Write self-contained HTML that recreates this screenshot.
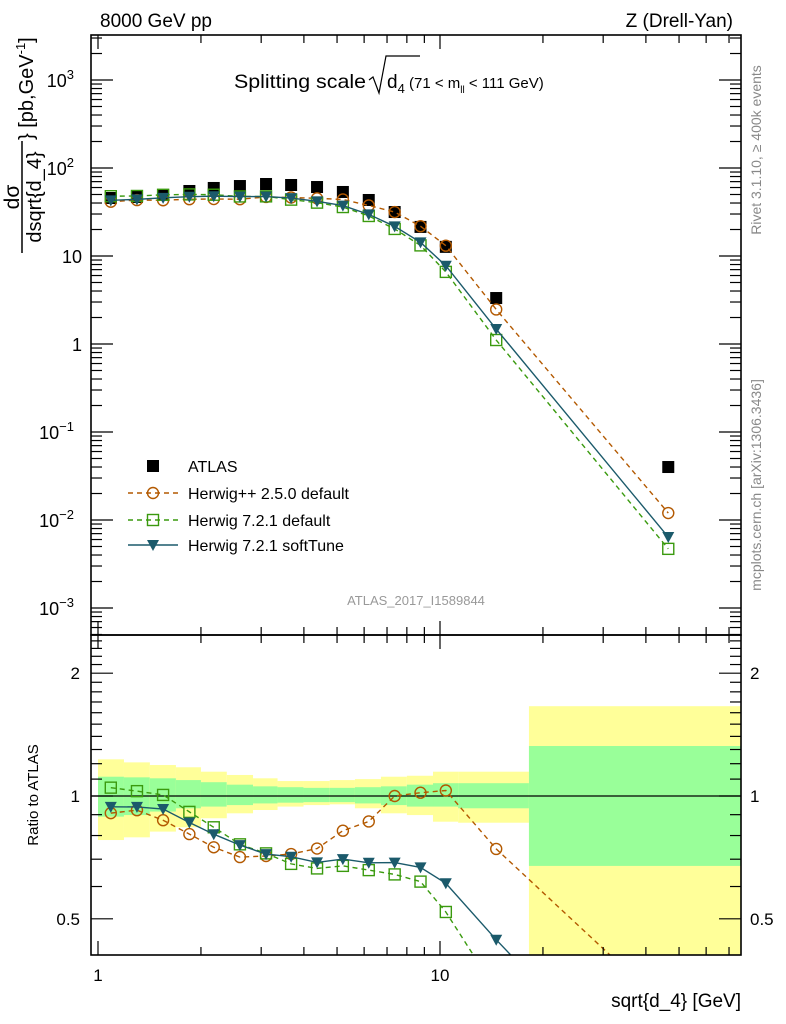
<!DOCTYPE html>
<html><head><meta charset="utf-8"><style>
html,body{margin:0;padding:0;background:#fff;overflow:hidden;width:786px;height:1024px}
svg{display:block;font-family:"Liberation Sans",sans-serif}
</style></head><body>
<svg id="c" width="786" height="1024" viewBox="0 0 786 1024" xmlns="http://www.w3.org/2000/svg">
<defs>
<clipPath id="cpTop"><rect x="91" y="35" width="650" height="600"/></clipPath>
<clipPath id="cpRat"><rect x="91" y="635" width="650" height="320"/></clipPath>
</defs>
<text x="100" y="27" font-size="19">8000 GeV pp</text>
<text x="733" y="27" font-size="19" text-anchor="end">Z (Drell-Yan)</text>
<g>
<text x="234" y="88" font-size="19.5" textLength="132" lengthAdjust="spacingAndGlyphs">Splitting scale</text>
<path d="M369,80 L373,77 L379,93 L386,56 L420,56" fill="none" stroke="#000" stroke-width="1.2"/>
<text x="387" y="88" font-size="19">d<tspan font-size="13" dy="5">4</tspan><tspan font-size="15" dy="-5"> (71 &lt; m</tspan><tspan font-size="10" dy="5">ll</tspan><tspan font-size="15" dy="-5"> &lt; 111 GeV)</tspan></text>
</g>
<g transform="translate(22,197) rotate(-90)">
<text x="0" y="-3" font-size="21" text-anchor="middle">dσ</text>
<line x1="-56" y1="0" x2="56" y2="0" stroke="#000" stroke-width="1.5"/>
<text x="0" y="19" font-size="20" text-anchor="middle">dsqrt{d_4}</text>
<text x="57" y="11" font-size="20">} [pb,GeV<tspan font-size="13" dy="-8">-1</tspan><tspan dy="8">]</tspan></text>
</g>
<text transform="translate(38,795) rotate(-90)" font-size="15" text-anchor="middle">Ratio to ATLAS</text>
<text transform="translate(761,150) rotate(-90)" font-size="14" fill="#888" text-anchor="middle">Rivet 3.1.10, ≥ 400k events</text>
<text transform="translate(761,485) rotate(-90)" font-size="14" fill="#888" text-anchor="middle">mcplots.cern.ch [arXiv:1306.3436]</text>
<text x="416" y="605" font-size="13" fill="#999" text-anchor="middle">ATLAS_2017_I1589844</text>
<text x="741" y="1007" font-size="19" text-anchor="end">sqrt{d_4} [GeV]</text>
<g id="bands" clip-path="url(#cpRat)"></g>
<g id="marks"></g>
<g id="axes"></g>
<g id="legend"></g>
</svg>
<script>
const xVals=[1.09,1.30,1.55,1.85,2.18,2.60,3.10,3.67,4.37,5.20,6.19,7.37,8.77,10.4,14.6,46.5];
const binEdges=[1.0,1.191,1.418,1.69,2.0,2.38,2.84,3.35,3.99,4.76,5.64,6.72,8.0,9.54,11.3,18.2,120];
const atlas=[45.6,46.8,49.3,54.8,59.3,62.4,65.8,64.1,60.8,53.4,43.3,31.6,21.4,12.7,3.33,0.04];
const herwigPP=[41.4,43.2,43.0,44.2,44.4,44.2,46.9,46.2,45.2,43.9,37.5,31.6,21.8,13.1,2.47,0.012];
const herwigDef=[47.8,48.1,49.6,50.1,49.7,47.5,47.6,43.7,40.4,36.0,28.5,20.3,13.2,6.6,1.11,0.0047];
const herwigSoft=[42.9,44.0,45.8,47.2,47.8,47.3,47.4,45.5,41.8,37.4,29.7,21.7,14.3,7.76,1.48,0.0064];
const yellowUp=[1.23,1.209,1.191,1.176,1.147,1.126,1.105,1.088,1.088,1.094,1.1,1.115,1.121,1.147,1.147,1.66];
const yellowDn=[0.78,0.792,0.818,0.838,0.882,0.907,0.924,0.942,0.95,0.954,0.933,0.907,0.898,0.865,0.86,0.2];
const greenUp=[1.115,1.111,1.105,1.094,1.081,1.066,1.056,1.051,1.047,1.047,1.051,1.056,1.066,1.075,1.075,1.326];
const greenDn=[0.89,0.898,0.916,0.933,0.942,0.95,0.959,0.963,0.966,0.966,0.959,0.95,0.942,0.942,0.933,0.674];
const xTickLabels=["1","10"];
const ratioTicks=[0.5,1,2];

const NS="http://www.w3.org/2000/svg";
const L=91,R=741,T=35,MID=635,B=955;
const X=v=>98+342*Math.log10(v);
const Y=v=>344-88*Math.log10(v);
const YR=v=>796-408*Math.log10(v);
const clampY=y=>Math.max(MID,Math.min(B,y));
function mk(tag,attrs,parent){const e=document.createElementNS(NS,tag);for(const k in attrs)e.setAttribute(k,attrs[k]);parent.appendChild(e);return e;}
const bands=document.getElementById('bands'),marks=document.getElementById('marks'),axes=document.getElementById('axes'),legend=document.getElementById('legend');

for(let i=0;i<atlas.length;i++){
  const x0=Math.max(L,X(binEdges[i])),x1=Math.min(R,X(binEdges[i+1]));
  const yt=clampY(YR(yellowUp[i])),yb=clampY(YR(yellowDn[i]));
  let r=mk('rect',{x:x0,y:yt,width:x1-x0,height:yb-yt,fill:'#ffff99'},bands);
  
  
  const gt=clampY(YR(greenUp[i])),gb=clampY(YR(greenDn[i]));
  r=mk('rect',{x:x0,y:gt,width:x1-x0,height:gb-gt,fill:'#99ff99'},bands);
  
  
}
const one=mk('line',{x1:L,x2:R,y1:YR(1),y2:YR(1),stroke:'#000','stroke-width':1.3},bands);



const gTop=mk('g',{'clip-path':'url(#cpTop)'},marks);
const gRat=mk('g',{'clip-path':'url(#cpRat)'},marks);

function marker(type,x,y,col,parent,name){
  let e;
  if(type==='sq') e=mk('rect',{x:x-6,y:y-6,width:12,height:12,fill:'#000'},parent);
  else if(type==='circ') e=mk('circle',{cx:x,cy:y,r:5.5,fill:'none',stroke:col,'stroke-width':1.4},parent);
  else if(type==='osq') e=mk('rect',{x:x-5.5,y:y-5.5,width:11,height:11,fill:'none',stroke:col,'stroke-width':1.4},parent);
  else e=mk('path',{d:`M${x-6},${y-5}L${x+6},${y-5}L${x},${y+6}Z`,fill:col},parent);
  
  
}
const series=[
 {d:herwigPP,col:'#b35900',type:'circ',dash:'5,4',name:'herwigpp'},
 {d:herwigDef,col:'#3a9a0e',type:'osq',dash:'5,4',name:'herwig-default'},
 {d:herwigSoft,col:'#1b5a6b',type:'tri',dash:'',name:'herwig-softtune'}];
atlas.forEach((v,i)=>marker('sq',X(xVals[i]),Y(v),'#000',gTop,'atlas-point-'+i));
series.forEach(s=>{
  const pts=s.d.map((v,i)=>X(xVals[i])+','+Y(v)).join(' ');
  const pl=mk('polyline',{points:pts,fill:'none',stroke:s.col,'stroke-width':1.4,'stroke-dasharray':s.dash},gTop);
  
  
  s.d.forEach((v,i)=>marker(s.type,X(xVals[i]),Y(v),s.col,gTop,s.name+'-point-'+i));
  const rp=s.d.map((v,i)=>X(xVals[i])+','+YR(v/atlas[i])).join(' ');
  const rl=mk('polyline',{points:rp,fill:'none',stroke:s.col,'stroke-width':1.4,'stroke-dasharray':s.dash},gRat);
  
  
  s.d.forEach((v,i)=>{const y=YR(v/atlas[i]);if(y<B+10)marker(s.type,X(xVals[i]),y,s.col,gRat,s.name+'-ratio-point-'+i);});
});

[[T,MID],[MID,B]].forEach(([a,b],k)=>{
  const f=mk('rect',{x:L,y:a,width:R-L,height:b-a,fill:'none',stroke:'#000','stroke-width':1.6},axes);
  
  
});
function tick(x1,y1,x2,y2){mk('line',{x1,y1,x2,y2,stroke:'#000','stroke-width':1.2},axes);}
for(let d=1;d<=10;d*=10)for(let m=1;m<10;m++){
  const v=d*m,x=X(v); if(x<L||x>R)continue;
  const len=m===1?14:8;
  tick(x,B,x,B-len);tick(x,MID,x,MID-len);tick(x,MID,x,MID+len);tick(x,T,x,T+len);
}
xTickLabels.forEach(s=>{const t=mk('text',{x:X(+s),y:981,'font-size':17,'text-anchor':'middle'},axes);t.textContent=s;
  
  });
for(let e=-4;e<=3;e++)for(let m=1;m<10;m++){
  const y=Y(m*Math.pow(10,e)); if(y<T||y>MID)continue;
  const len=m===1?22:11;
  tick(L,y,L+len,y);tick(R,y,R-len,y);
}
const yl=[[3,'10','3'],[2,'10','2'],[1,'10',''],[0,'1',''],[-1,'10','−1'],[-2,'10','−2'],[-3,'10','−3']];
yl.forEach(([e,b,s])=>{
  const t=mk('text',{x:s?74:82,y:Y(Math.pow(10,e))+7,'font-size':18,'text-anchor':'end'},axes);
  t.textContent=b;
  if(s){const ts=mk('tspan',{dy:-8,'font-size':13},t);ts.textContent=s;}
  
  
});
for(let v=0.4;v<=2.5;v+=0.1){const y=YR(v);if(y<MID||y>B)continue;
  const maj=[0.5,1,2].some(q=>Math.abs(q-v)<1e-6);const len=maj?22:11;tick(L,y,L+len,y);tick(R,y,R-len,y);}
ratioTicks.forEach(v=>{
  const t=mk('text',{x:80,y:YR(v)+6,'font-size':17,'text-anchor':'end'},axes);t.textContent=String(v);
  
  
  const t2=mk('text',{x:750,y:YR(v)+6,'font-size':17},axes);t2.textContent=String(v);
  
  
});
const items=[['sq','#000','','ATLAS',466],['circ','#b35900','5,4','Herwig++ 2.5.0 default',493],['osq','#3a9a0e','5,4','Herwig 7.2.1 default',520],['tri','#1b5a6b','','Herwig 7.2.1 softTune',545]];
items.forEach(([ty,col,dash,lab,y],i)=>{
  const g=mk('g',{},legend);
  
  
  if(ty!=='sq')mk('line',{x1:128,x2:178,y1:y,y2:y,stroke:col,'stroke-width':1.4,'stroke-dasharray':dash},g);
  marker(ty,153,y,col,g,'legend-marker-'+i);
  const t=mk('text',{x:188,y:y+6,'font-size':16},g);t.textContent=lab;
});
</script>
</body></html>
